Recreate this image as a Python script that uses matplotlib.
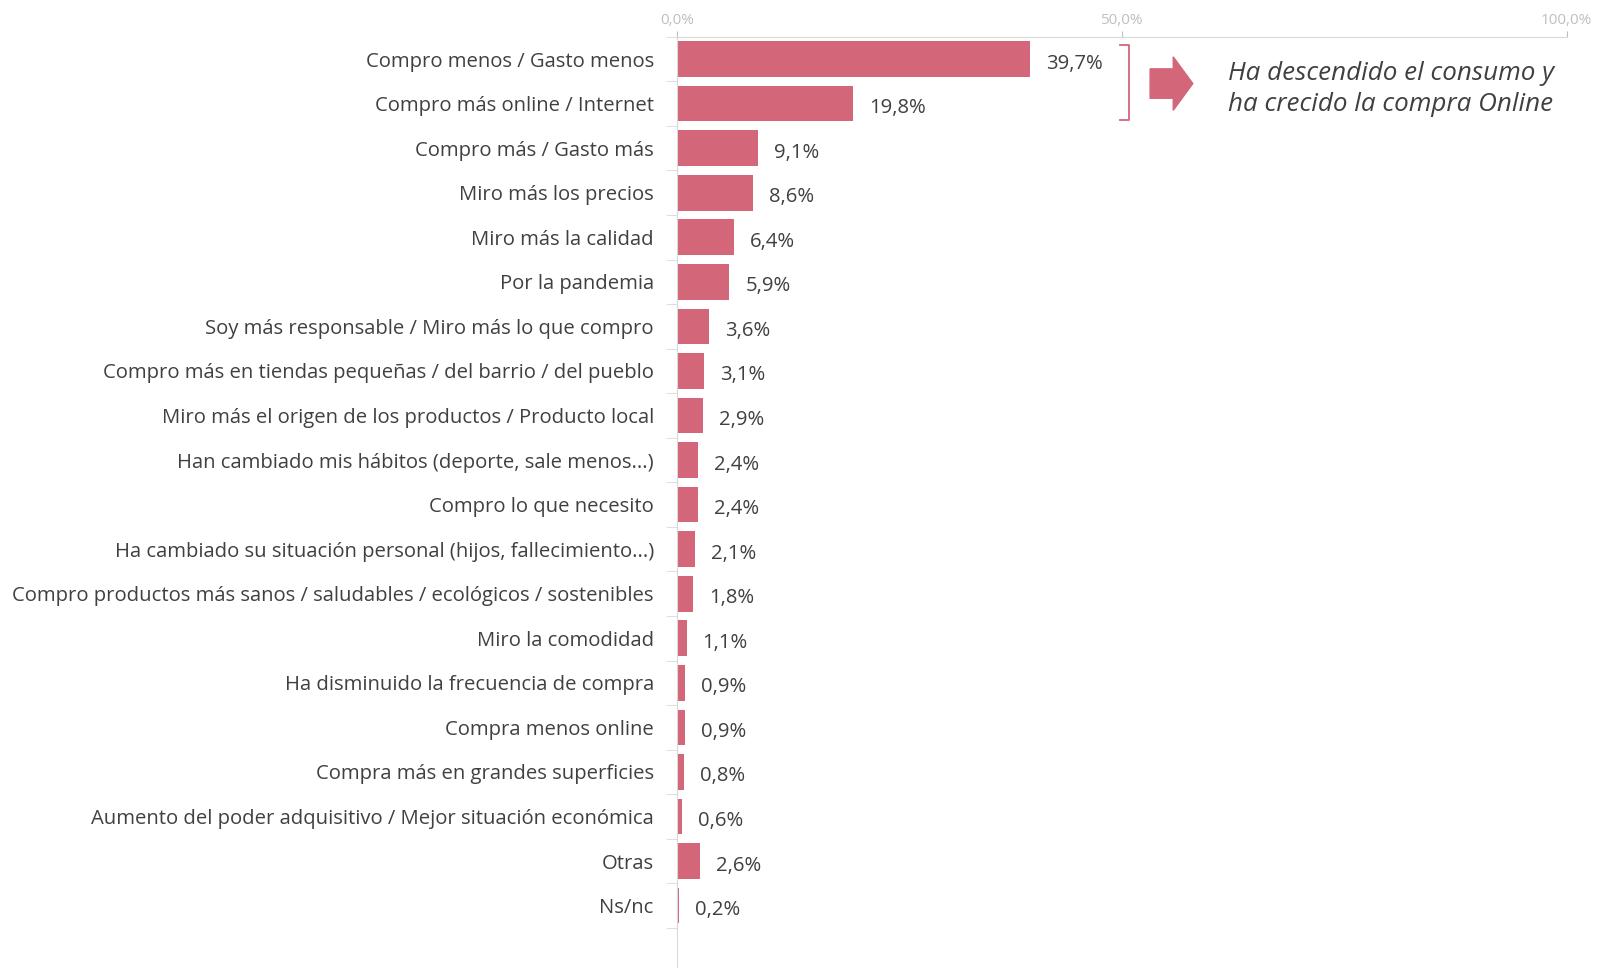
import matplotlib
matplotlib.use("Agg")
import matplotlib.pyplot as plt
from matplotlib.patches import FancyArrow
import numpy as np

plt.rcParams['font.family'] = ['Open Sans', 'DejaVu Sans']

categories = [
    "Compro menos / Gasto menos",
    "Compro más online / Internet",
    "Compro más / Gasto más",
    "Miro más los precios",
    "Miro más la calidad",
    "Por la pandemia",
    "Soy más responsable / Miro más lo que compro",
    "Compro más en tiendas pequeñas / del barrio / del pueblo",
    "Miro más el origen de los productos / Producto local",
    "Han cambiado mis hábitos (deporte, sale menos...)",
    "Compro lo que necesito",
    "Ha cambiado su situación personal (hijos, fallecimiento...)",
    "Compro productos más sanos / saludables / ecológicos / sostenibles",
    "Miro la comodidad",
    "Ha disminuido la frecuencia de compra",
    "Compra menos online",
    "Compra más en grandes superficies",
    "Aumento del poder adquisitivo / Mejor situación económica",
    "Otras",
    "Ns/nc",
]
values = [39.7, 19.8, 9.1, 8.6, 6.4, 5.9, 3.6, 3.1, 2.9, 2.4, 2.4, 2.1, 1.8, 1.1, 0.9, 0.9, 0.8, 0.6, 2.6, 0.2]
xticks = [0, 50, 100]

bar_color = "#D4667A"
text_color = "#404040"
grey = "#BFBFBF"

fig = plt.figure(figsize=(15.98, 9.68), dpi=100)
ax = fig.add_axes([0.4235, 0.0, 0.5568, 0.962])

y = np.arange(len(categories))
ax.barh(y, values, height=0.8, color=bar_color)

for yi, v in zip(y, values):
    ax.text(v + 1.8, yi + 0.1, f"{v:.1f}%".replace(".", ","), va="center", ha="left",
            fontsize=14.6, color=text_color)

ax.set_xlim(0, 100)
ax.set_ylim(20.4, -0.5)
ax.xaxis.tick_top()
ax.set_xticks(xticks)
ax.set_xticklabels([f"{t:.1f}%".replace(".", ",") for t in xticks], fontsize=11, color=grey)
ax.tick_params(axis="x", length=4, color=grey, pad=2.5)

ax.set_yticks(y)
ax.set_yticklabels(categories, fontsize=14.6, color=text_color)
ax.set_yticks(np.arange(len(categories) + 1) - 0.5, minor=True)
ax.tick_params(axis="y", which="major", length=0, pad=16.5)
ax.tick_params(axis="y", which="minor", length=8, color="#D9D9D9")

for s in ["right", "bottom"]:
    ax.spines[s].set_visible(False)
ax.spines["top"].set_color("#D9D9D9")
ax.spines["left"].set_color("#D9D9D9")

# bracket grouping the first two bars
bx, bw = 50.8, 1.0
ax.plot([bx - bw, bx, bx, bx - bw], [-0.32, -0.32, 1.37, 1.37], color=bar_color, lw=1.3,
        clip_on=False)

# block arrow
ax.add_patch(FancyArrow(53.2, 0.55, 4.8, 0, width=0.66, head_width=1.2, head_length=2.2,
                        length_includes_head=True, color=bar_color, clip_on=False))

ax.text(62.0, 0.33, "Ha descendido el consumo y", fontsize=18.7, style="italic",
        color=text_color, va="center", ha="left")
ax.text(62.0, 1.03, "ha crecido la compra Online", fontsize=18.7, style="italic",
        color=text_color, va="center", ha="left")

fig.savefig("out.png", dpi=100)
